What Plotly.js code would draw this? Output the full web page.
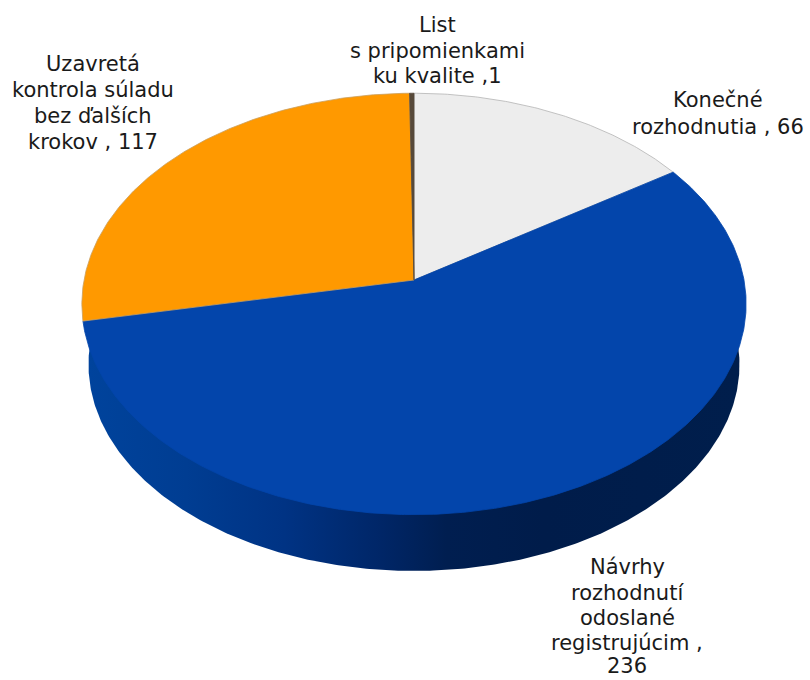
<!DOCTYPE html>
<html>
<head>
<meta charset="utf-8">
<script src="https://cdn.plot.ly/plotly-3.0.1.min.js"></script>
<style>html,body{margin:0;padding:0;background:#fff}</style>
</head>
<body>
<div id="chart" style="width:810px;height:680px"></div>
<script>
// Slice values, clockwise from twelve o'clock
const sliceNames = ['Konečné rozhodnutia', 'Návrhy rozhodnutí odoslané registrujúcim', 'Uzavretá kontrola súladu bez ďalších krokov', 'List s pripomienkami ku kvalite'];
const sliceValues = [66, 236, 117, 1];
const sliceColors = ['#EDEDED', '#0345AB', '#FF9900', '#57493A'];
const sliceEdges = ['#B4B4B4', '#0345AB', '#C9A060', '#57493A'];

// Label text, one entry per line; the last line carries the slice value
const labelLines = [
  ['Konečné', 'rozhodnutia , ' + sliceValues[0]],
  ['Návrhy', 'rozhodnutí', 'odoslané', 'registrujúcim ,', String(sliceValues[1])],
  ['Uzavretá', 'kontrola súladu', 'bez ďalších', 'krokov , ' + sliceValues[2]],
  ['List', 's pripomienkami', 'ku kvalite ,' + sliceValues[3]]
];
const labelX = [718, 627, 92.5, 437];
const labelY = [[100, 127], [567, 593, 618, 643, 666], [64, 90, 116, 142], [25, 51, 76]];

// Perspective projection of the tilted disc
const discX = 414, discY = 280, spreadX = 330, spreadY = 208, foreshorten = 0.1136;
// The underside of the disc sits lower and slightly further away
const baseDrop = 61, baseScale = 0.98;

function project(turn, drop, scale) {
  const a = turn * 2 * Math.PI;
  const u = Math.sin(a), v = Math.cos(a);
  const w = 1 + foreshorten * v;
  return [discX + scale * spreadX * u / w, discY + drop - scale * spreadY * v / w];
}

function arc(from, to, drop, scale) {
  const n = Math.max(2, Math.ceil((to - from) * 720));
  const xs = [], ys = [];
  for (let i = 0; i <= n; i++) {
    const p = project(from + (to - from) * i / n, drop, scale);
    xs.push(p[0]); ys.push(p[1]);
  }
  return [xs, ys];
}

const traces = [];

// Side wall: the full lower rim, covered by the top face where they overlap
const rim = arc(0, 1, baseDrop, baseScale);
traces.push({
  type: 'scatter', mode: 'lines', x: rim[0], y: rim[1], fill: 'toself',
  line: {width: 0, color: '#001E4C'}, hoverinfo: 'skip', showlegend: false,
  fillgradient: {
    type: 'horizontal',
    colorscale: [[0, '#00439C'], [0.15, '#003D92'], [0.3, '#003384'], [0.45, '#002667'], [0.55, '#001E50'], [0.7, '#001C4A'], [1, '#001E4C']]
  }
});

// Top face slices, built from the shares of the total
const total = sliceValues.reduce((s, v) => s + v, 0);
let running = 0;
sliceValues.forEach((value, i) => {
  const from = running / total;
  running += value;
  const [xs, ys] = arc(from, running / total, 0, 1);
  traces.push({
    type: 'scatter', mode: 'lines', name: sliceNames[i],
    x: [discX].concat(xs, [discX]), y: [discY].concat(ys, [discY]),
    fill: 'toself', fillcolor: sliceColors[i],
    line: {width: 0.8, color: sliceEdges[i]},
    text: sliceNames[i] + ': ' + value, hoverinfo: 'text', showlegend: false
  });
});

const annotations = [];
labelLines.forEach((lines, i) => {
  lines.forEach((line, j) => {
    annotations.push({
      x: labelX[i], y: labelY[i][j], xref: 'x', yref: 'y', text: line,
      showarrow: false, xanchor: 'center', yanchor: 'middle',
      font: {family: '"DejaVu Sans", Verdana, sans-serif', size: 21, color: '#1A1A1A'}
    });
  });
});

const hiddenAxis = {visible: false, fixedrange: true, showgrid: false, zeroline: false};
Plotly.newPlot('chart', traces, {
  width: 810, height: 680,
  margin: {l: 0, r: 0, t: 0, b: 0},
  paper_bgcolor: '#FFFFFF', plot_bgcolor: '#FFFFFF',
  xaxis: Object.assign({range: [0, 810]}, hiddenAxis),
  yaxis: Object.assign({range: [680, 0]}, hiddenAxis),
  annotations: annotations,
  showlegend: false
}, {displayModeBar: false, staticPlot: true});
</script>
</body>
</html>
